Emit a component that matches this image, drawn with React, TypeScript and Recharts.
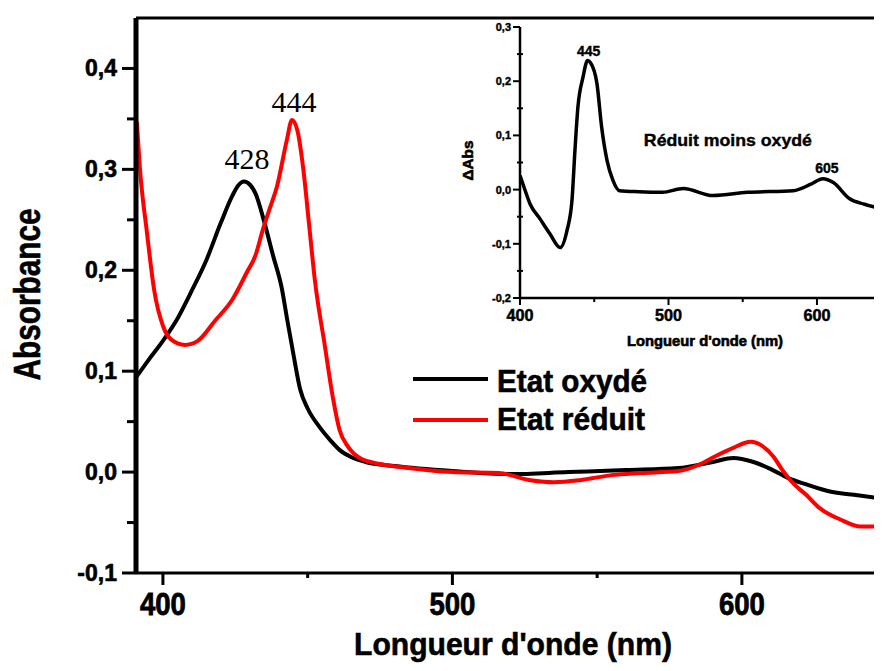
import React from 'react';
import { LineChart, Line, XAxis, YAxis, ReferenceLine, ReferenceDot, Legend } from 'recharts';

// main spectra (nm / absorbance)
const oxNm = [391, 395, 400, 405, 410, 415, 420, 424, 426, 428, 430, 432, 435, 438, 441, 443, 445, 447.5, 450, 454, 458, 461, 465, 470, 480, 500, 520, 540, 560, 578, 590, 597, 604, 610, 616, 622, 630, 640, 648];
const oxAbs = [0.095, 0.111, 0.13, 0.152, 0.18, 0.21, 0.247, 0.274, 0.284, 0.288, 0.285, 0.276, 0.248, 0.215, 0.183, 0.15, 0.118, 0.081, 0.063, 0.045, 0.031, 0.022, 0.015, 0.01, 0.006, 0.001, -0.002, 0, 0.002, 0.004, 0.01, 0.014, 0.01, 0.003, -0.006, -0.012, -0.019, -0.023, -0.026];

const redNm = [391, 392, 394.5, 397, 400, 403, 407.6, 412, 418, 424, 429, 432, 434.5, 437, 439.4, 442.8, 444.6, 446.5, 448.5, 450.5, 452.5, 456, 458.7, 461, 464, 468, 475, 482, 500, 516, 527, 535, 544, 555, 565, 578, 585, 591, 597, 603, 607, 611, 614, 618, 622, 627, 634, 641, 648];
const redAbs = [0.347, 0.303, 0.237, 0.18, 0.145, 0.131, 0.126, 0.13, 0.15, 0.171, 0.198, 0.215, 0.24, 0.262, 0.283, 0.329, 0.349, 0.338, 0.3, 0.245, 0.19, 0.124, 0.074, 0.042, 0.025, 0.014, 0.008, 0.005, 0, -0.001, -0.008, -0.01, -0.008, -0.003, -0.001, 0.001, 0.007, 0.016, 0.024, 0.03, 0.026, 0.015, 0.002, -0.012, -0.022, -0.036, -0.047, -0.054, -0.054];

// inset: reduced minus oxidized
const diffNm = [400, 403, 406.7, 413.5, 420, 427, 431.6, 435, 437, 439, 442.4, 445.5, 447.5, 451.8, 455, 458.6, 462.6, 467, 480, 496, 510, 530, 553, 584, 596, 604, 611, 622, 632, 643];
const diffAbs = [0.026, 0.002, -0.026, -0.054, -0.081, -0.107, -0.076, -0.02, 0.072, 0.152, 0.207, 0.238, 0.234, 0.196, 0.115, 0.054, 0.017, -0.002, -0.004, -0.005, 0.002, -0.011, -0.005, -0.002, 0.01, 0.02, 0.013, -0.017, -0.027, -0.035];

const mainXTicks = [400, 450, 500, 550, 600];
const mainYTicks = [-0.1, -0.05, 0, 0.05, 0.1, 0.15, 0.2, 0.25, 0.3, 0.35, 0.4];
const insetXTicks = [400, 450, 500, 550, 600];
const insetYTicks = [-0.2, -0.15, -0.1, -0.05, 0, 0.05, 0.1, 0.15, 0.2, 0.25, 0.3];

const oxData = oxNm.map((nm, i) => ({ nm, abs: oxAbs[i] }));
const redData = redNm.map((nm, i) => ({ nm, abs: redAbs[i] }));
const diffData = diffNm.map((nm, i) => ({ nm, abs: diffAbs[i] }));

const SANS = '"Liberation Sans", Arial, sans-serif';
const SERIF = '"Liberation Serif", "Times New Roman", serif';

const isMajorY = (v: number) => Math.abs(v * 10 - Math.round(v * 10)) < 1e-6;
const isMajorX = (v: number) => v % 100 === 0;
const fmt = (v: number) => v.toFixed(1).replace('.', ',');

const MainYTick = ({ x, y, payload }: any) => {
  const major = isMajorY(payload.value);
  return (
    <g>
      <line x1={x} x2={x - (major ? 14 : 9)} y1={y} y2={y} stroke="#000" strokeWidth={3} />
      {major && (
        <text x={x - 19} y={y + 8} textAnchor="end" fontFamily={SANS} fontWeight="bold" fontSize={23} fill="#000" stroke="#000" strokeWidth={0.6}>
          {fmt(payload.value)}
        </text>
      )}
    </g>
  );
};

const MainXTick = ({ x, y, payload }: any) => {
  const major = isMajorX(payload.value);
  return (
    <g>
      <line x1={x} x2={x} y1={y} y2={y + (major ? 12 : 5)} stroke="#000" strokeWidth={3} />
      {major && (
        <text x={x} y={y + 42} textAnchor="middle" fontFamily={SANS} fontWeight="bold" fontSize={31} textLength={46} lengthAdjust="spacingAndGlyphs" fill="#000" stroke="#000" strokeWidth={0.8}>
          {payload.value}
        </text>
      )}
    </g>
  );
};

const InsetYTick = ({ x, y, payload }: any) => {
  const major = isMajorY(payload.value);
  return (
    <g>
      {major ? (
        <line x1={x} x2={x - 7} y1={y} y2={y} stroke="#000" strokeWidth={2} />
      ) : (
        <line x1={x - 3} x2={x + 3} y1={y} y2={y} stroke="#000" strokeWidth={2} />
      )}
      {major && (
        <text x={x - 9} y={y + 4} textAnchor="end" fontFamily={SANS} fontWeight="bold" fontSize={11} fill="#000" stroke="#000" strokeWidth={0.4}>
          {fmt(payload.value)}
        </text>
      )}
    </g>
  );
};

const InsetXTick = ({ x, y, payload }: any) => {
  const major = isMajorX(payload.value);
  return (
    <g>
      <line x1={x} x2={x} y1={y} y2={y + (major ? 7 : 4)} stroke="#000" strokeWidth={2} />
      {major && (
        <text x={x} y={y + 23} textAnchor="middle" fontFamily={SANS} fontWeight="bold" fontSize={16} textLength={27} lengthAdjust="spacingAndGlyphs" fill="#000" stroke="#000" strokeWidth={0.5}>
          {payload.value}
        </text>
      )}
    </g>
  );
};

const AxisTitle = ({ viewBox, caption, size, length, vertical, base, shift = 0 }: any) => {
  const vb = viewBox || { x: 0, y: 0, width: 0, height: 0 };
  if (vertical) {
    const cx = vb.x + base;
    const cy = vb.y + vb.height / 2 + shift;
    return (
      <text x={cx} y={cy} transform={`rotate(-90 ${cx} ${cy})`} textAnchor="middle" fontFamily={SANS} fontWeight="bold" fontSize={size} textLength={length} lengthAdjust="spacingAndGlyphs" fill="#000" stroke="#000" strokeWidth={0.6}>
        {caption}
      </text>
    );
  }
  return (
    <text x={vb.x + vb.width / 2 + shift} y={vb.y + base} textAnchor="middle" fontFamily={SANS} fontWeight="bold" fontSize={size} textLength={length} lengthAdjust="spacingAndGlyphs" fill="#000" stroke="#000" strokeWidth={0.6}>
      {caption}
    </text>
  );
};

const PointLabel = ({ viewBox, caption, size, lift, shift = 0, serif, bold, length }: any) => {
  const vb = viewBox || { x: 0, y: 0, width: 0, height: 0 };
  const cx = vb.x + vb.width / 2;
  const cy = vb.y + vb.height / 2;
  return (
    <text
      x={cx + shift}
      y={cy - lift}
      textAnchor="middle"
      fontFamily={serif ? SERIF : SANS}
      fontWeight={bold ? 'bold' : 'normal'}
      fontSize={size}
      fill="#000"
      {...(length ? { textLength: length, lengthAdjust: 'spacingAndGlyphs' } : {})}
      {...(bold ? { stroke: '#000', strokeWidth: 0.4 } : {})}
    >
      {caption}
    </text>
  );
};

const LegendBox = ({ payload }: any) => (
  <svg width={260} height={85} style={{ display: 'block' }}>
    {(payload || []).map((p: any, i: number) => (
      <g key={p.value}>
        <line x1={0} x2={75} y1={21 + i * 41} y2={21 + i * 41} stroke={p.color} strokeWidth={4} />
        <text x={84} y={34 + i * 38} fontFamily={SANS} fontWeight="bold" fontSize={32} textLength={i === 0 ? 150 : 148} lengthAdjust="spacingAndGlyphs" fill="#000" stroke="#000" strokeWidth={0.6}>
          {p.value}
        </text>
      </g>
    ))}
  </svg>
);

export default function App() {
  return (
    <div style={{ position: 'relative', width: 874, height: 663 }}>
      <LineChart width={874} height={663} margin={{ top: 10, right: 0, bottom: 0, left: 0 }}>
        <XAxis
          type="number"
          dataKey="nm"
          domain={[390.7, 648.4]}
          allowDataOverflow
          ticks={mainXTicks}
          interval={0}
          tickSize={0}
          tickMargin={0}
          tickLine={false}
          tick={<MainXTick />}
          axisLine={{ stroke: '#000', strokeWidth: 3 }}
          height={98}
          label={<AxisTitle caption="Longueur d'onde (nm)" size={32} length={318} base={82} shift={4} />}
        />
        <YAxis
          type="number"
          domain={[-0.1, 0.45]}
          allowDataOverflow
          ticks={mainYTicks}
          interval={0}
          tickSize={0}
          tickMargin={0}
          tickLine={false}
          tick={<MainYTick />}
          axisLine={{ stroke: '#000', strokeWidth: 5 }}
          width={128}
          label={<AxisTitle caption="Absorbance" size={36} length={172} vertical base={32} shift={-1} />}
        />
        <ReferenceLine y={0.45} stroke="#000" strokeWidth={3} />
        <Line data={oxData} dataKey="abs" name="Etat oxydé" type="monotone" stroke="#000" strokeWidth={4} dot={false} isAnimationActive={false} />
        <Line data={redData} dataKey="abs" name="Etat réduit" type="monotone" stroke="#ff0000" strokeWidth={4} dot={false} isAnimationActive={false} />
        <ReferenceDot x={428} y={0.288} r={1} fill="none" stroke="none" label={<PointLabel caption="428" size={30} lift={12} shift={3} serif />} />
        <ReferenceDot x={444.6} y={0.349} r={1} fill="none" stroke="none" label={<PointLabel caption="444" size={30} lift={8} shift={2} serif />} />
        <Legend
          layout="vertical"
          align="center"
          verticalAlign="middle"
          content={<LegendBox />}
          wrapperStyle={{ position: 'absolute', left: 405, top: 350, width: 260, height: 85 }}
        />
      </LineChart>

      <div style={{ position: 'absolute', left: 432, top: 2 }}>
        <LineChart width={442} height={350} margin={{ top: 17, right: 0, bottom: 0, left: 0 }}>
          <XAxis
            type="number"
            dataKey="nm"
            domain={[400, 643.8]}
            allowDataOverflow
            ticks={insetXTicks}
            interval={0}
            tickSize={0}
            tickMargin={0}
            tickLine={false}
            tick={<InsetXTick />}
            axisLine={{ stroke: '#000', strokeWidth: 2.5 }}
            height={62}
            label={<AxisTitle caption="Longueur d'onde (nm)" size={14} length={156} base={48} shift={4} />}
          />
          <YAxis
            type="number"
            domain={[-0.2, 0.3]}
            allowDataOverflow
            ticks={insetYTicks}
            interval={0}
            tickSize={0}
            tickMargin={0}
            tickLine={false}
            tick={<InsetYTick />}
            axisLine={{ stroke: '#000', strokeWidth: 2.5 }}
            width={80}
            label={<AxisTitle caption="ΔAbs" size={15} length={40} vertical base={33} shift={-2} />}
          />
          <Line data={diffData} dataKey="abs" name="Réduit moins oxydé" type="monotone" stroke="#000" strokeWidth={3.5} dot={false} isAnimationActive={false} />
          <ReferenceDot x={445.5} y={0.238} r={1} fill="none" stroke="none" label={<PointLabel caption="445" size={14} lift={5} shift={1} bold />} />
          <ReferenceDot x={604} y={0.02} r={1} fill="none" stroke="none" label={<PointLabel caption="605" size={14} lift={6} shift={4} bold />} />
          <ReferenceDot x={540} y={0.081} r={1} fill="none" stroke="none" label={<PointLabel caption="Réduit moins oxydé" size={17} lift={0} bold length={168} />} />
        </LineChart>
      </div>
    </div>
  );
}
